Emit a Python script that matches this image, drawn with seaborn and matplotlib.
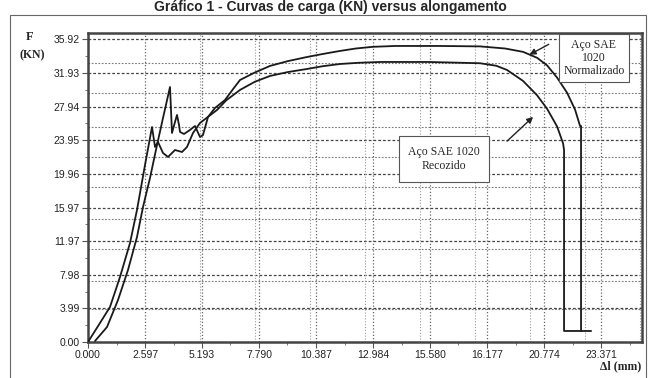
import numpy as np
import pandas as pd
import seaborn as sns
from matplotlib import pyplot as plt
from matplotlib.ticker import FixedLocator

# tensile test curves (mm, kN)
norm_x = [0.319, 0.866, 1.367, 1.822, 2.232, 2.506, 2.825, 3.144, 3.417, 3.736,
          3.827, 3.964, 4.055, 4.146, 4.192, 4.374, 4.647, 4.875, 5.103, 5.239,
          5.467, 5.786, 6.242, 6.600, 6.925, 7.600, 8.292, 9.100, 9.978, 10.700,
          11.481, 12.200, 12.985, 14.000, 16.037, 17.860, 19.000, 19.819, 20.457,
          20.912, 21.368, 21.824, 22.188, 22.416, 22.461, 22.461]
norm_y = [0.12, 1.78, 4.99, 8.55, 12.47, 16.03, 19.48, 23.39, 26.60, 30.28,
          24.82, 26.13, 26.96, 25.77, 24.94, 24.70, 25.18, 25.65, 24.34, 24.58,
          26.72, 27.79, 28.74, 30.00, 31.11, 32.00, 32.78, 33.35, 33.84, 34.20,
          34.56, 34.85, 35.05, 35.15, 35.15, 35.10, 34.85, 34.45, 33.75,
          32.85, 31.40, 29.60, 27.60, 25.65, 25.65, 1.31]

rec_x = [0.000, 0.547, 1.002, 1.458, 1.914, 2.232, 2.597, 2.916, 3.053, 3.189,
         3.417, 3.645, 3.964, 4.283, 4.511, 4.784, 5.103, 5.877, 6.300, 6.925,
         7.600, 8.292, 9.100, 9.978, 10.700, 11.481, 12.300, 13.304, 15.500,
         17.860, 18.600, 19.090, 19.819, 20.457, 20.912, 21.368, 21.642, 21.687,
         21.687, 22.920]
rec_y = [0.00, 2.26, 4.16, 7.72, 11.76, 15.68, 21.02, 25.53, 23.16, 23.75,
         22.44, 21.97, 22.80, 22.56, 23.16, 24.82, 26.01, 27.55, 28.70, 29.93,
         30.90, 31.59, 32.05, 32.42, 32.75, 33.01, 33.15, 33.25, 33.25,
         33.10, 32.80, 32.30, 31.00, 29.30, 27.70, 25.60, 23.60, 22.80,
         1.31, 1.31]

y_ticks = [0.00, 3.99, 7.98, 11.97, 15.97, 19.96, 23.95, 27.94, 31.93, 35.92]
x_ticks = [0.000, 2.597, 5.193, 7.790, 10.387, 12.984, 15.580, 18.177, 20.774, 23.371]
x_labels = ['0.000', '2.597', '5.193', '7.790', '10.387', '12.984', '15.580',
            '16.177', '20.774', '23.371']
# second (shifted) grid that shows through in the picture
y_grid2 = [3.9, 7.24, 11.04, 14.6, 18.4, 21.97, 25.53, 29.57, 33.13]
x_grid2 = [5.10, 7.61, 10.11, 12.62, 15.13, 17.63, 20.14, 22.64, 25.15]

sns.set_style('white')
plt.rcParams['font.family'] = ['Liberation Sans', 'DejaVu Sans']

fig = plt.figure(figsize=(6.48, 3.78), dpi=100)
ax = fig.add_axes([0.1358, 0.0952, 0.855, 0.8175])

for v in y_ticks[1:]:
    ax.axhline(v, color='#444444', lw=0.9, ls=(0, (2.2, 1.6)), zorder=1)
for v in y_grid2:
    ax.axhline(v, color='#777777', lw=0.8, ls=(0, (1.5, 1.5)), zorder=1)
for v in x_ticks[1:]:
    ax.axvline(v, color='#666666', lw=0.9, ls=(0, (1, 1.6)), zorder=1)
for v in x_grid2:
    ax.axvline(v, color='#999999', lw=0.8, ls=(0, (1, 1.6)), zorder=1)

sns.lineplot(x=norm_x, y=norm_y, sort=False, estimator=None, ax=ax,
             color='#1a1a1a', lw=1.3, zorder=3)
sns.lineplot(x=rec_x, y=rec_y, sort=False, estimator=None, ax=ax,
             color='#1a1a1a', lw=1.3, zorder=3)

ax.set_xlim(0, 25.24)
ax.set_ylim(0, 36.69)
ax.set_xticks(x_ticks)
ax.set_xticklabels(x_labels)
ax.set_yticks(y_ticks)
ax.set_yticklabels(['%.2f' % v for v in y_ticks])
ax.yaxis.set_minor_locator(FixedLocator([v + 1.995 for v in y_ticks[:-1]]))
ax.xaxis.set_minor_locator(FixedLocator([v + 1.2985 for v in x_ticks]))
ax.tick_params(axis='both', which='major', length=4, width=0.8, color='#555555',
               labelsize=7.5, labelcolor='#222222', pad=2)
ax.tick_params(axis='both', which='minor', length=2.5, width=0.7, color='#777777')
ax.tick_params(axis='x', which='both', bottom=True)
ax.tick_params(axis='y', which='both', left=True)
for s in ax.spines.values():
    s.set_linewidth(1.8)
    s.set_color('#444444')
ax.set_xlabel('')
ax.set_ylabel('')

serif = ['Liberation Serif', 'DejaVu Serif']
ax.annotate('', xy=(20.0, 33.96), xytext=(21.1, 35.5),
            arrowprops=dict(arrowstyle='-|>', color='#222222', lw=1.0,
                            mutation_scale=9), zorder=4)
ax.annotate('', xy=(20.37, 26.96), xytext=(19.0, 23.63),
            arrowprops=dict(arrowstyle='-|>', color='#222222', lw=1.0,
                            mutation_scale=9), zorder=4)
ax.text(23.05, 33.73, 'Aço SAE\n1020\nNormalizado', ha='center', va='center',
        family=serif, fontsize=8.5, linespacing=1.15, zorder=5,
        bbox=dict(boxstyle='square,pad=0.4', fc='white', ec='#555555', lw=0.8))
ax.text(16.22, 21.73, 'Aço SAE 1020\nRecozido', ha='center', va='center',
        family=serif, fontsize=8.5, linespacing=1.3, zorder=5,
        bbox=dict(boxstyle='square,pad=0.8', fc='white', ec='#555555', lw=0.8))

fig.text(0.046, 0.902, 'F', ha='center', va='center', family=serif,
         fontsize=9, fontweight='bold')
fig.text(0.05, 0.855, '(KN)', ha='center', va='center', family=serif,
         fontsize=8.5, fontweight='bold')
fig.text(0.99, 0.015, 'Δl (mm)', ha='right', va='bottom', family=serif,
         fontsize=8.5, fontweight='bold')
fig.text(0.51, 1 - 11 / 378, 'Gráfico 1 - Curvas de carga (KN) versus alongamento',
         ha='center', va='baseline', fontsize=10, fontweight='bold')

# outer frame of the figure box
fig.add_artist(plt.Rectangle((10 / 648, -0.02), 636 / 648, 1 - 15 / 378 + 0.02,
                             transform=fig.transFigure, fill=False,
                             ec='#666666', lw=0.8))

fig.savefig('out.png', dpi=100)
